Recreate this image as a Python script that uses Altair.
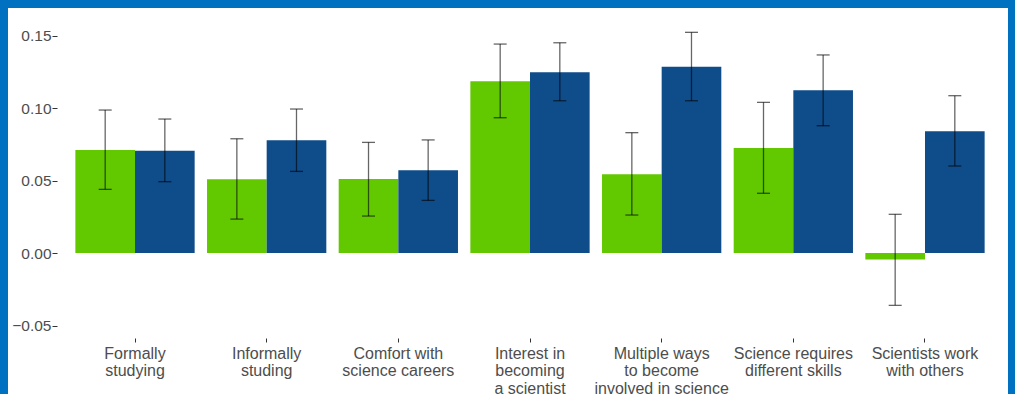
import altair as alt
import pandas as pd

categories = [
    "Formally\nstudying",
    "Informally\nstuding",
    "Comfort with\nscience careers",
    "Interest in\nbecoming\na scientist",
    "Multiple ways\nto become\ninvolved in science",
    "Science requires\ndifferent skills",
    "Scientists work\nwith others",
]
groups = ["Group 1", "Group 2"]

green = [0.0710, 0.0508, 0.0510, 0.1184, 0.0543, 0.0724, -0.0044]
green_lo = [0.0439, 0.0234, 0.0255, 0.0933, 0.0262, 0.0412, -0.0361]
green_hi = [0.0986, 0.0788, 0.0763, 0.1441, 0.0830, 0.1039, 0.0267]
blue = [0.0706, 0.0777, 0.0570, 0.1246, 0.1285, 0.1122, 0.0839]
blue_lo = [0.0492, 0.0563, 0.0363, 0.1050, 0.1050, 0.0878, 0.0600]
blue_hi = [0.0924, 0.0993, 0.0780, 0.1450, 0.1522, 0.1366, 0.1085]

y_ticks = [-0.05, 0.0, 0.05, 0.10, 0.15]

rows = []
for i, c in enumerate(categories):
    rows.append(dict(category=c, group=groups[0], value=green[i], lo=green_lo[i], hi=green_hi[i]))
    rows.append(dict(category=c, group=groups[1], value=blue[i], lo=blue_lo[i], hi=blue_hi[i]))
df = pd.DataFrame(rows)

W, H = 946, 318

xaxis = alt.Axis(
    title=None, labelAngle=0, labelExpr="split(datum.label, '\\n')",
    labelFont="Liberation Sans", labelFontSize=16, labelColor="#4D4D4D",
    labelLineHeight=17.5, tickSize=4, tickColor="#333333", domain=False,
    grid=False, labelPadding=3,
)
x = alt.X("category:N", sort=categories,
          scale=alt.Scale(paddingInner=0.094, paddingOuter=0.1395), axis=xaxis)
xo = alt.XOffset("group:N", sort=groups, scale=alt.Scale(paddingInner=0, paddingOuter=0))

yscale = alt.Scale(domain=[-0.0586, 0.1607], nice=False)
yaxis = alt.Axis(
    title=None, values=y_ticks, format=".2f", labelFont="Liberation Sans",
    labelFontSize=15.5, labelColor="#4D4D4D", tickSize=5, tickColor="#333333",
    domain=False, grid=False, labelPadding=1,
)
color = alt.Color("group:N", scale=alt.Scale(domain=groups, range=["#62C800", "#0F4C8A"]), legend=None)

base = alt.Chart(df)
bars = base.mark_bar().encode(
    x=x, xOffset=xo, y=alt.Y("value:Q", scale=yscale, axis=yaxis), y2=alt.datum(0), color=color
)
rules = base.mark_rule(color="black", opacity=0.6, strokeWidth=1.3).encode(
    x=x, xOffset=xo, y=alt.Y("lo:Q", scale=yscale, axis=yaxis), y2="hi:Q"
)
cap_lo = base.mark_tick(orient="horizontal", size=13, thickness=1.3, color="black", opacity=0.6).encode(
    x=x, xOffset=xo, y=alt.Y("lo:Q", scale=yscale, axis=yaxis)
)
cap_hi = base.mark_tick(orient="horizontal", size=13, thickness=1.3, color="black", opacity=0.6).encode(
    x=x, xOffset=xo, y=alt.Y("hi:Q", scale=yscale, axis=yaxis)
)

one = pd.DataFrame({"k": [0]})
BORDER = "#0070C0"
left_b = alt.Chart(one).mark_rect(color=BORDER).encode(
    x=alt.value(-57), x2=alt.value(-49), y=alt.value(-20), y2=alt.value(374))
top_b = alt.Chart(one).mark_rect(color=BORDER).encode(
    x=alt.value(-57), x2=alt.value(958), y=alt.value(-20), y2=alt.value(-12))
right_b = alt.Chart(one).mark_rect(color=BORDER).encode(
    x=alt.value(951), x2=alt.value(958), y=alt.value(-20), y2=alt.value(374))

chart = alt.layer(bars, rules, cap_lo, cap_hi, left_b, top_b, right_b).properties(
    width=W, height=H,
    padding={"left": 57, "top": 20, "right": 12, "bottom": 56},
    autosize=alt.AutoSizeParams(type="none"),
    background="white",
).configure_view(stroke=None)

chart.save("out.html", embed_options={"renderer": "svg", "actions": False})
